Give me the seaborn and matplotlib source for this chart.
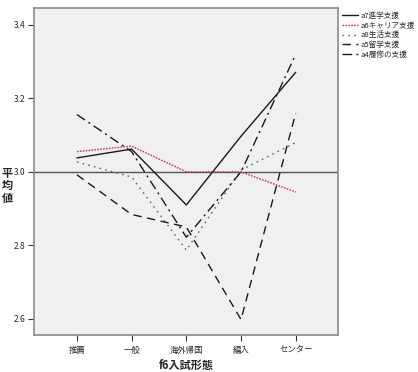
import numpy as np
import pandas as pd
import matplotlib
matplotlib.use('Agg')
import matplotlib.pyplot as plt
import seaborn as sns

# ---- data ----
categories = ['推薦', '一般', '海外帰国', '編入', 'センター']
series_names = ['a7進学支援', 'a6キャリア支援', 'a8生活支援', 'a5留学支援', 'a4履修の支援']
a7_values = [3.038, 3.062, 2.910, 3.097, 3.271]
a6_values = [3.055, 3.070, 3.000, 3.000, 2.945]
a8_values = [3.027, 2.986, 2.787, 3.005, 3.080]
a5_values = [2.992, 2.884, 2.850, 2.598, 3.160]
a4_values = [3.156, 3.055, 2.822, 3.000, 3.320]

rows = []
for name, vals in zip(series_names, [a7_values, a6_values, a8_values, a5_values, a4_values]):
    for cat, v in zip(categories, vals):
        rows.append({'f6入試形態': cat, '平均値': v, 'item': name})
df = pd.DataFrame(rows)

# ---- styles ----
sns.set_style('white')
plt.rcParams['font.family'] = ['Noto Sans CJK JP', 'DejaVu Sans']

line_styles = {
    'a7進学支援': dict(color='#1a1a1a', linestyle='-'),
    'a6キャリア支援': dict(color='#c8384a', linestyle=(0, (1.2, 0.9))),
    'a8生活支援': dict(color='#5a6690', linestyle=(0, (1.2, 3.0))),
    'a5留学支援': dict(color='#1a1a1a', linestyle=(0, (6, 4))),
    'a4履修の支援': dict(color='#1a1a1a', linestyle=(0, (7, 3, 1.5, 3))),
}

fig = plt.figure(figsize=(4.18, 3.72), dpi=100)
ax = fig.add_axes([0.0813, 0.0995, 0.727, 0.879])
ax.set_facecolor('#f0f0f0')

for name in series_names:
    sub = df[df['item'] == name]
    sns.lineplot(data=sub, x='f6入試形態', y='平均値', ax=ax, label=name,
                 linewidth=1.0, sort=False, **line_styles[name])

# reference line at 3.0
ax.axhline(3.0, color='#555555', linewidth=1.0, zorder=0.5)

ax.set_xlim(-0.785, 4.77)
ax.set_ylim(2.556, 3.446)
ax.set_yticks([2.6, 2.8, 3.0, 3.2, 3.4])
ax.set_yticklabels(['2.6', '2.8', '3.0', '3.2', '3.4'])

for spine in ax.spines.values():
    spine.set_color('#8a8a8a')
    spine.set_linewidth(1.2)

ax.tick_params(axis='both', which='both', length=4, width=0.8, color='#333333',
               labelsize=6, pad=2, direction='out', bottom=True, left=True)
ax.tick_params(axis='x', pad=4)

ax.set_xlabel('f6入試形態', fontsize=8, fontweight='bold', labelpad=3)
ax.set_ylabel('')
fig.text(0.017, 0.5, '平\n均\n値', fontsize=8, fontweight='bold',
         ha='center', va='center', linespacing=0.95)

leg = ax.legend(loc='upper left', bbox_to_anchor=(1.0, 1.0), frameon=False,
                fontsize=5.5, handlelength=2.2, handletextpad=0.3,
                labelspacing=0.22, borderaxespad=0.3, borderpad=0.2)

fig.savefig('out.png', dpi=100)
